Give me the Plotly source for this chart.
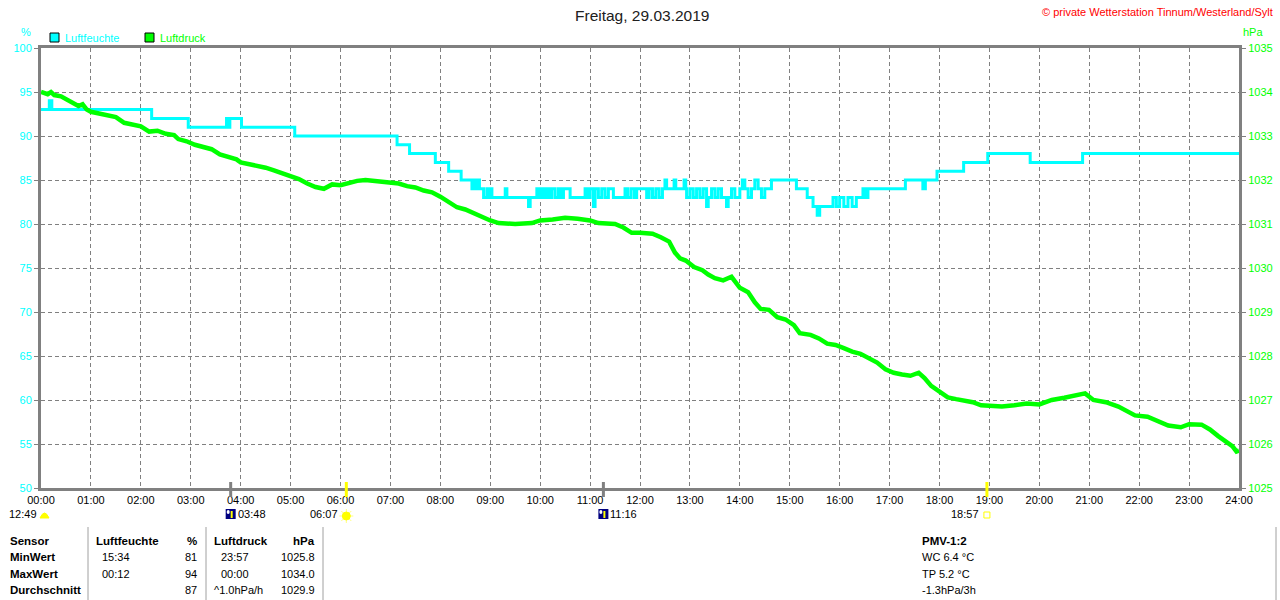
import plotly.graph_objects as go

# humidity (%), step values
hum_time = ["00:00", "00:10", "00:13", "02:13", "02:57", "03:43", "03:45", "03:47", "04:01", "05:05",
            "07:08", "07:23", "07:54", "08:10", "08:25", "08:38", "08:40", "08:42", "08:45", "08:47",
            "08:52", "08:56", "08:58", "09:00", "09:02", "09:18", "09:20", "09:46", "09:48", "09:56",
            "09:59", "10:02", "10:05", "10:08", "10:11", "10:14", "10:18", "10:22", "10:25", "10:28",
            "10:36", "10:40", "10:54", "10:57", "11:00", "11:04", "11:06", "11:10", "11:14", "11:18",
            "11:22", "11:28", "11:42", "11:45", "11:49", "11:53", "11:56", "12:08", "12:11", "12:15",
            "12:19", "12:23", "12:27", "12:30", "12:32", "12:41", "12:43", "12:53", "12:55", "12:56",
            "13:00", "13:04", "13:08", "13:12", "13:16", "13:20", "13:22", "13:26", "13:30", "13:34",
            "13:38", "13:44", "13:46", "13:50", "13:54", "14:00", "14:03", "14:06", "14:10", "14:14",
            "14:18", "14:22", "14:26", "14:30", "14:38", "15:08", "15:21", "15:28", "15:33", "15:36",
            "15:52", "15:56", "16:00", "16:05", "16:10", "16:15", "16:20", "16:28", "16:31", "16:34",
            "17:19", "17:40", "17:43", "17:57", "18:29", "18:58", "19:49", "20:52", "24:00"]
hum_val = [93, 94, 93, 92, 91, 92, 91, 92, 91, 90,
           89, 88, 87, 86, 85, 84, 85, 84, 85, 84,
           83, 84, 83, 84, 83, 84, 83, 82, 83, 84,
           83, 84, 83, 84, 83, 84, 83, 84, 83, 84,
           83, 83, 84, 83, 84, 82, 84, 83, 84, 83,
           84, 83, 84, 83, 84, 83, 84, 83, 84, 83,
           84, 83, 84, 85, 84, 85, 84, 85, 84, 83,
           84, 83, 84, 83, 84, 82, 83, 84, 83, 84,
           83, 82, 83, 84, 83, 84, 85, 84, 83, 84,
           85, 84, 83, 84, 85, 84, 83, 82, 81, 82,
           83, 82, 83, 82, 83, 82, 83, 84, 83, 84,
           85, 84, 85, 86, 87, 88, 87, 88, 88]

# pressure (hPa)
prs_time = ["00:00", "00:08", "00:12", "00:16", "00:24", "00:30", "00:36", "00:40", "00:45", "00:50",
            "00:55", "01:00", "01:08", "01:15", "01:25", "01:30", "01:40", "01:50", "02:00", "02:10",
            "02:20", "02:30", "02:40", "02:45", "02:55", "03:05", "03:15", "03:25", "03:35", "03:45",
            "03:55", "04:00", "04:10", "04:20", "04:30", "04:40", "04:50", "05:00", "05:10", "05:20",
            "05:30", "05:40", "05:50", "06:00", "06:10", "06:20", "06:30", "06:40", "06:50", "07:00",
            "07:10", "07:20", "07:30", "07:40", "07:50", "08:00", "08:10", "08:20", "08:30", "08:40",
            "08:50", "09:00", "09:10", "09:30", "09:50", "10:00", "10:15", "10:30", "10:45", "11:00",
            "11:10", "11:30", "11:40", "11:50", "12:00", "12:15", "12:25", "12:35", "12:42", "12:48",
            "12:55", "13:05", "13:15", "13:22", "13:30", "13:40", "13:50", "14:00", "14:10", "14:18",
            "14:25", "14:35", "14:45", "14:55", "15:05", "15:12", "15:25", "15:35", "15:45", "15:55",
            "16:05", "16:15", "16:25", "16:35", "16:45", "16:55", "17:05", "17:15", "17:25", "17:35",
            "17:42", "17:50", "18:00", "18:10", "18:20", "18:30", "18:40", "18:50", "19:00", "19:15",
            "19:30", "19:45", "20:00", "20:15", "20:30", "20:45", "20:55", "21:05", "21:20", "21:35",
            "21:45", "21:55", "22:10", "22:20", "22:35", "22:50", "23:00", "23:15", "23:25", "23:35",
            "23:45", "23:52", "23:57", "24:00"]
prs_val = [1034.00, 1033.95, 1034.00, 1033.93, 1033.90, 1033.83, 1033.78, 1033.72, 1033.68, 1033.72,
           1033.60, 1033.55, 1033.52, 1033.48, 1033.46, 1033.43, 1033.30, 1033.25, 1033.22, 1033.10,
           1033.12, 1033.05, 1033.02, 1032.93, 1032.88, 1032.80, 1032.76, 1032.70, 1032.58, 1032.52,
           1032.47, 1032.40, 1032.36, 1032.33, 1032.28, 1032.22, 1032.15, 1032.08, 1032.02, 1031.92,
           1031.84, 1031.80, 1031.90, 1031.88, 1031.93, 1031.98, 1032.00, 1031.98, 1031.95, 1031.94,
           1031.92, 1031.86, 1031.83, 1031.76, 1031.72, 1031.62, 1031.50, 1031.38, 1031.33, 1031.25,
           1031.15, 1031.08, 1031.02, 1031.00, 1031.02, 1031.08, 1031.10, 1031.14, 1031.12, 1031.08,
           1031.02, 1031.00, 1030.92, 1030.80, 1030.80, 1030.78, 1030.70, 1030.60, 1030.35, 1030.22,
           1030.17, 1030.02, 1029.95, 1029.85, 1029.77, 1029.72, 1029.80, 1029.55, 1029.45, 1029.22,
           1029.07, 1029.05, 1028.88, 1028.83, 1028.70, 1028.52, 1028.48, 1028.40, 1028.28, 1028.25,
           1028.18, 1028.10, 1028.05, 1027.95, 1027.85, 1027.70, 1027.62, 1027.58, 1027.55, 1027.62,
           1027.50, 1027.32, 1027.18, 1027.06, 1027.02, 1026.98, 1026.95, 1026.88, 1026.86, 1026.85,
           1026.88, 1026.92, 1026.90, 1027.00, 1027.05, 1027.12, 1027.15, 1027.00, 1026.95, 1026.85,
           1026.75, 1026.65, 1026.62, 1026.53, 1026.42, 1026.38, 1026.45, 1026.44, 1026.33, 1026.18,
           1026.05, 1025.95, 1025.83, 1025.85]

hour_labels = ["%02d:00" % h for h in range(25)]
hum_ticks = [100, 95, 90, 85, 80, 75, 70, 65, 60, 55, 50]
prs_ticks = [1035, 1034, 1033, 1032, 1031, 1030, 1029, 1028, 1027, 1026, 1025]

# moon / sun events
moon_events = ["03:48", "11:16"]
sunrise = "06:07"
sunset = "18:57"
day_length = "12:49"

table_rows = ["Sensor", "MinWert", "MaxWert", "Durchschnitt"]
hum_col = [("Luftfeuchte", "%"), ("15:34", "81"), ("00:12", "94"), ("", "87")]
prs_col = [("Luftdruck", "hPa"), ("23:57", "1025.8"), ("00:00", "1034.0"), ("^1.0hPa/h", "1029.9")]
pmv = ["PMV-1:2", "WC 6.4 °C", "TP 5.2 °C", "-1.3hPa/3h"]

CYAN = "#00ffff"
GREEN = "#00ff00"
GRAY = "#808080"
FONT = "Liberation Sans, Arial, sans-serif"


def to_h(t):
    h, m = t.split(":")
    return int(h) + int(m) / 60


# pixel -> paper helpers (plot area 41..1239 x 48..488)
def px(x):
    return (x - 41) / 1198


def py(y):
    return (488 - y) / 440


fig = go.Figure()
fig.add_trace(go.Scatter(x=[to_h(t) for t in prs_time], y=prs_val, yaxis="y2",
                         mode="lines", line=dict(color=GREEN, width=4.5), name="Luftdruck"))
fig.add_trace(go.Scatter(x=[to_h(t) for t in hum_time], y=hum_val, mode="lines",
                         line=dict(color=CYAN, width=3, shape="hv"), name="Luftfeuchte"))

shapes = []
annots = []

# legend boxes
for x0, col, txt in [(50, CYAN, "Luftfeuchte"), (145, GREEN, "Luftdruck")]:
    shapes.append(dict(type="rect", xref="paper", yref="paper", x0=px(x0), x1=px(x0 + 9),
                       y0=py(42), y1=py(33), fillcolor=col, line=dict(color="black", width=1)))
    annots.append(dict(x=px(x0 + 13), y=py(38), text=txt, xanchor="left",
                       font=dict(color=col, size=11)))

annots += [
    dict(x=px(642), y=py(15), text="Freitag, 29.03.2019", xanchor="center", font=dict(color="#202020", size=15.5)),
    dict(x=px(1275), y=py(12), text="© private Wetterstation Tinnum/Westerland/Sylt", xanchor="right",
         font=dict(color="#ff0000", size=11)),
    dict(x=px(33), y=py(32), text="%", xanchor="right", font=dict(color=CYAN, size=11)),
    dict(x=px(1241), y=py(32), text="hPa", xanchor="left", font=dict(color=GREEN, size=11)),
]

# event ticks and labels
for t in moon_events:
    h = to_h(t)
    shapes.append(dict(type="line", xref="x", yref="paper", x0=h, x1=h, y0=py(497), y1=py(482),
                       line=dict(color=GRAY, width=3)))
    shapes.append(dict(type="rect", xref="x", yref="paper", xsizemode="pixel", xanchor=h,
                       x0=-5, x1=5, y0=py(519), y1=py(509), fillcolor="#000080", line=dict(width=0)))
    shapes.append(dict(type="circle", xref="x", yref="paper", xsizemode="pixel", xanchor=h,
                       x0=-4, x1=-1, y0=py(514), y1=py(510), fillcolor="white", line=dict(width=0)))
    shapes.append(dict(type="line", xref="x", yref="paper", xsizemode="pixel", xanchor=h,
                       x0=1, x1=1, y0=py(518), y1=py(511), line=dict(color="#ffff00", width=2)))
    annots.append(dict(x=h, xref="x", y=py(514), text=t, xanchor="left", xshift=5,
                       font=dict(size=11, color="black")))
for t, sun_col in [(sunrise, "#ffff00"), (sunset, "#ffff00")]:
    h = to_h(t)
    shapes.append(dict(type="line", xref="x", yref="paper", x0=h, x1=h, y0=py(497), y1=py(482),
                       line=dict(color=sun_col, width=3)))
    annots.append(dict(x=h, xref="x", y=py(514), text=t, xanchor="right", xshift=-6,
                       font=dict(size=11, color="black")))
h = to_h(sunrise)
for dx0, dy0, dx1, dy1 in [(-7, 0, 7, 0), (0, -7, 0, 7), (-5, -5, 5, 5), (-5, 5, 5, -5)]:
    shapes.append(dict(type="line", xref="x", yref="paper", xsizemode="pixel", ysizemode="pixel",
                       xanchor=h, yanchor=py(516), x0=dx0, x1=dx1, y0=dy0, y1=dy1,
                       line=dict(color="#ffff80", width=1)))
shapes.append(dict(type="circle", xref="x", yref="paper", xsizemode="pixel", xanchor=h,
                   x0=-4, x1=4, y0=py(520), y1=py(512), fillcolor="#ffff00", line=dict(color="#ffff00", width=1)))
h = to_h(sunset)
shapes.append(dict(type="rect", xref="x", yref="paper", xsizemode="pixel", xanchor=h,
                   x0=-3, x1=3, y0=py(518), y1=py(512), line=dict(color="#ffff00", width=1)))
shapes.append(dict(type="path", xref="paper", yref="paper",
                   path="M %f %f Q %f %f %f %f Z" % (px(40), py(518), px(44.5), py(508), px(49), py(518)),
                   fillcolor="#ffff00", line=dict(color="#ffff00", width=1)))
annots.append(dict(x=px(39), y=py(514), text=day_length, xanchor="right", font=dict(size=11, color="black")))

# table
row_y = [541, 557, 574, 590]
for yy, lab in zip(row_y, table_rows):
    annots.append(dict(x=px(8), y=py(yy), text="<b>%s</b>" % lab, xanchor="left", font=dict(size=11.5)))
for i, (yy, (a, b)) in enumerate(zip(row_y, hum_col)):
    bold = i == 0
    annots.append(dict(x=px(94 if bold else 100), y=py(yy), text=("<b>%s</b>" % a) if bold else a,
                       xanchor="left", font=dict(size=11.5 if bold else 11)))
    annots.append(dict(x=px(199), y=py(yy), text=("<b>%s</b>" % b) if bold else b,
                       xanchor="right", font=dict(size=11.5 if bold else 11)))
for i, (yy, (a, b)) in enumerate(zip(row_y, prs_col)):
    bold = i == 0
    annots.append(dict(x=px(212 if (bold or i == 3) else 219), y=py(yy), text=("<b>%s</b>" % a) if bold else a,
                       xanchor="left", font=dict(size=11.5 if bold else 11)))
    annots.append(dict(x=px(317), y=py(yy), text=("<b>%s</b>" % b) if bold else b,
                       xanchor="right", font=dict(size=11.5 if bold else 11)))
for i, (yy, txt) in enumerate(zip(row_y, pmv)):
    annots.append(dict(x=px(920), y=py(yy), text=("<b>%s</b>" % txt) if i == 0 else txt,
                       xanchor="left", font=dict(size=11.5 if i == 0 else 11)))
for xx in [88, 206, 323, 1276]:
    shapes.append(dict(type="line", xref="paper", yref="paper", x0=px(xx), x1=px(xx),
                       y0=py(600), y1=py(527), line=dict(color="#a0a0a0", width=1)))

for a in annots:
    a.setdefault("xref", "paper")
    a.setdefault("yref", "paper")
    a.setdefault("showarrow", False)
    a.setdefault("yanchor", "middle")
    a["font"].setdefault("color", "black")
    a["font"].setdefault("family", FONT)

fig.update_layout(
    width=1280, height=600, autosize=False,
    margin=dict(l=41, r=41, t=48, b=112, autoexpand=False),
    paper_bgcolor="white", plot_bgcolor="white",
    showlegend=False,
    font=dict(family=FONT, size=11, color="black"),
    xaxis=dict(range=[0, 24], tickvals=list(range(25)), ticktext=hour_labels, automargin=False,
               showgrid=True, gridcolor=GRAY, griddash="4px,3px", gridwidth=1,
               showline=True, linecolor=GRAY, linewidth=3, mirror=True,
               ticks="", tickfont=dict(size=11, color="black"), zeroline=False, fixedrange=True),
    yaxis=dict(range=[50, 100], tickvals=hum_ticks, showgrid=True, gridcolor=GRAY, automargin=False,
               griddash="4px,3px", gridwidth=1, showline=True, linecolor=GRAY, linewidth=3,
               ticks="outside", ticklen=4, tickcolor=GRAY, tickwidth=1,
               tickfont=dict(size=11, color=CYAN), zeroline=False),
    yaxis2=dict(range=[1025, 1035], tickvals=prs_ticks, overlaying="y", side="right", automargin=False,
                showgrid=False, showline=True, linecolor=GRAY, linewidth=3,
                ticks="outside", ticklen=4, tickcolor=GRAY, tickwidth=1,
                tickfont=dict(size=11, color=GREEN), zeroline=False),
    shapes=shapes,
    annotations=annots,
)

# page body has a default 8px margin; drop it so the 1280x600 figure fills the window
post = ("document.body.style.margin='0px';document.body.style.overflow='hidden';"
        "Plotly.relayout('{plot_id}', {width: 1280, height: 600});")
fig.write_html("out.html", config={"displayModeBar": False, "responsive": False}, post_script=post)
